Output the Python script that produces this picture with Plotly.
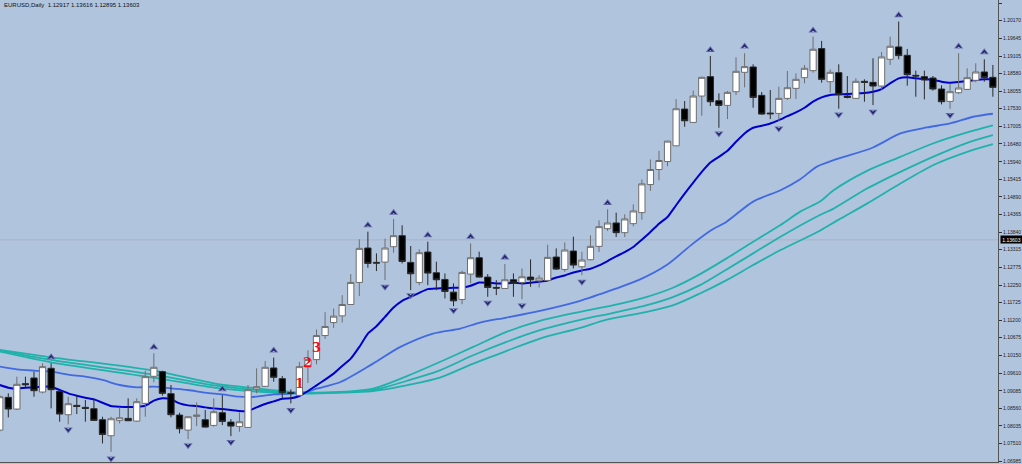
import plotly.graph_objects as go

# Candles (bar index is the x position)
open_ = [1.0791,1.0889,1.0854,1.0930,1.0947,1.0905,1.0976,1.0907,1.0837,1.0865,1.0859,1.0855,1.0822,1.0774,1.0820,1.0826,1.0818,1.0871,1.0952,1.0966,
1.0900,1.0836,1.0791,1.0832,1.0822,1.0805,1.0843,1.0815,1.0802,1.0799,1.0914,1.0922,1.0977,1.0945,1.0903,1.0895,1.0980,1.1002,1.1074,1.1113,
1.1133,1.1167,1.1233,1.1336,1.1293,1.1294,1.1340,1.1373,1.1293,1.1233,1.1324,1.1262,1.1242,1.1204,1.1182,1.1258,1.1307,1.1249,1.1218,1.1215,
1.1241,1.1233,1.1249,1.1238,1.1239,1.1309,1.1272,1.1327,1.1280,1.1301,1.1341,1.1394,1.1411,1.1382,1.1409,1.1442,1.1526,1.1571,1.1595,1.1642,
1.1752,1.1712,1.1791,1.1849,1.1777,1.1763,1.1804,1.1862,1.1878,1.1793,1.1740,1.1739,1.1784,1.1814,1.1846,1.1867,1.1933,1.1834,1.1861,1.1791,
1.1784,1.1835,1.1832,1.1821,1.1901,1.1938,1.1913,1.1853,1.1849,1.1845,1.1812,1.1775,1.1801,1.1811,1.1838,1.1863,1.1847]
high = [1.0896,1.0901,1.0951,1.0951,1.0966,1.0991,1.0991,1.0911,1.0891,1.0896,1.0881,1.0886,1.0831,1.0831,1.0859,1.0886,1.0886,1.0969,1.1021,1.0969,
1.0926,1.0843,1.0833,1.0874,1.0851,1.0886,1.0896,1.0824,1.0844,1.0926,1.0976,1.0998,1.1008,1.0953,1.0913,1.0995,1.1030,1.1092,1.1144,1.1155,
1.1195,1.1258,1.1362,1.1385,1.1320,1.1364,1.1423,1.1404,1.1342,1.1332,1.1355,1.1295,1.1260,1.1230,1.1268,1.1350,1.1325,1.1258,1.1240,1.1288,
1.1260,1.1275,1.1302,1.1255,1.1346,1.1335,1.1353,1.1370,1.1325,1.1374,1.1419,1.1452,1.1442,1.1437,1.1467,1.1541,1.1601,1.1627,1.1657,1.1782,
1.1776,1.1807,1.1849,1.1911,1.1799,1.1806,1.1907,1.1919,1.1886,1.1803,1.1809,1.1819,1.1866,1.1859,1.1884,1.1969,1.1956,1.1871,1.1886,1.1851,
1.1844,1.1841,1.1904,1.1923,1.1969,1.2014,1.1932,1.1867,1.1867,1.1851,1.1823,1.1829,1.1919,1.1874,1.1889,1.1901,1.1884]
low = [1.0786,1.0829,1.0851,1.0919,1.0891,1.0901,1.0856,1.0816,1.0808,1.0839,1.0816,1.0819,1.0751,1.0726,1.0811,1.0819,1.0816,1.0831,1.0934,1.0894,
1.0829,1.0781,1.0764,1.0803,1.0799,1.0801,1.0806,1.0773,1.0786,1.0799,1.0901,1.0921,1.0936,1.0886,1.0871,1.0894,1.0932,1.0988,1.1064,1.1097,
1.1113,1.1167,1.1192,1.1277,1.1267,1.1240,1.1322,1.1290,1.1210,1.1225,1.1225,1.1210,1.1185,1.1162,1.1168,1.1230,1.1248,1.1190,1.1195,1.1215,
1.1190,1.1183,1.1220,1.1218,1.1239,1.1270,1.1265,1.1275,1.1255,1.1299,1.1324,1.1387,1.1369,1.1369,1.1401,1.1421,1.1507,1.1539,1.1581,1.1642,
1.1699,1.1712,1.1732,1.1761,1.1696,1.1722,1.1794,1.1817,1.1756,1.1735,1.1722,1.1717,1.1779,1.1782,1.1829,1.1861,1.1831,1.1801,1.1753,1.1784,
1.1783,1.1774,1.1764,1.1811,1.1884,1.1901,1.1822,1.1789,1.1781,1.1807,1.1766,1.1753,1.1797,1.1809,1.1832,1.1834,1.1789]
close = [1.0891,1.0854,1.0928,1.0927,1.0909,1.0981,1.0912,1.0839,1.0870,1.0862,1.0856,1.0820,1.0778,1.0825,1.0828,1.0819,1.0876,1.0951,1.0979,1.0901,
1.0837,1.0795,1.0831,1.0836,1.0800,1.0846,1.0817,1.0803,1.0816,1.0912,1.0921,1.0979,1.0949,1.0903,1.0901,1.0981,1.1002,1.1074,1.1101,1.1132,
1.1167,1.1233,1.1335,1.1290,1.1291,1.1336,1.1373,1.1296,1.1259,1.1322,1.1261,1.1241,1.1206,1.1178,1.1263,1.1307,1.1249,1.1218,1.1216,1.1241,
1.1232,1.1250,1.1241,1.1246,1.1308,1.1273,1.1330,1.1285,1.1300,1.1341,1.1400,1.1411,1.1382,1.1423,1.1447,1.1528,1.1571,1.1598,1.1656,1.1753,
1.1717,1.1791,1.1847,1.1774,1.1763,1.1802,1.1865,1.1879,1.1787,1.1737,1.1738,1.1784,1.1816,1.1841,1.1874,1.1931,1.1841,1.1862,1.1795,1.1787,
1.1835,1.1832,1.1821,1.1908,1.1940,1.1912,1.1855,1.1851,1.1839,1.1812,1.1774,1.1804,1.1815,1.1846,1.1863,1.1846,1.1817]

# Fast moving average, one value per bar
ma_fast = [1.0926,1.0918,1.0915,1.0918,1.0919,1.0921,1.0921,1.0911,1.0901,1.0894,1.0888,1.0883,1.0873,1.0863,1.0861,1.0860,1.0861,1.0864,1.0879,1.0886,
1.0883,1.0871,1.0865,1.0863,1.0859,1.0856,1.0854,1.0851,1.0848,1.0848,1.0859,1.0869,1.0877,1.0885,1.0886,1.0893,1.0908,1.0925,1.0942,1.0960,
1.0983,1.1005,1.1040,1.1080,1.1102,1.1130,1.1158,1.1178,1.1190,1.1202,1.1213,1.1215,1.1216,1.1217,1.1217,1.1223,1.1233,1.1232,1.1230,1.1230,
1.1232,1.1230,1.1232,1.1235,1.1239,1.1248,1.1254,1.1263,1.1269,1.1274,1.1284,1.1297,1.1311,1.1324,1.1339,1.1361,1.1384,1.1409,1.1429,1.1464,
1.1499,1.1532,1.1564,1.1592,1.1609,1.1627,1.1654,1.1679,1.1696,1.1702,1.1709,1.1719,1.1731,1.1742,1.1756,1.1774,1.1787,1.1794,1.1796,1.1797,
1.1799,1.1800,1.1804,1.1812,1.1829,1.1844,1.1847,1.1844,1.1842,1.1839,1.1834,1.1831,1.1833,1.1836,1.1839,1.1841,1.1841]

# Slower averages, read at selected bar positions
ma_mid_x = [0,2,4,6,8,10,12,14,16,18,20,22,24,26,28,30,32,34,36,37,39.8,43.6,46.8,50.6,53.8,56.1,59.2,63.1,67.8,71.7,74.8,77.9,81,83,84.9,88,91.2,93.5,95.4,97.4,102,105.2,108.3,111,113.7,116]
ma_mid = [1.0981,1.0973,1.0969,1.0966,1.0957,1.0951,1.0941,1.0926,1.0919,1.0921,1.0916,1.0911,1.0903,1.0898,1.0891,1.0891,1.0898,1.0900,1.0906,1.0915,1.0935,1.0990,1.1040,1.1080,1.1095,1.1113,1.1128,1.1148,1.1178,1.1212,1.1242,1.1285,1.1350,1.1388,1.1415,1.1475,1.1509,1.1542,1.1579,1.1599,1.1637,1.1679,1.1697,1.1709,1.1729,1.1738]

ma_a_x = [0,6,18,25,30,35,39.8,43.6,44.8,47.5,51.4,55.3,59.2,63.1,67.8,71.7,75.6,78.7,81.8,84.9,88,91.2,93.5,95.8,97.4,101.3,105.2,109,113,116]
ma_a = [1.1031,1.1009,1.0969,1.0931,1.0916,1.0904,1.0905,1.0915,1.0925,1.0952,1.0995,1.1040,1.1085,1.1118,1.1145,1.1165,1.1190,1.1218,1.1258,1.1305,1.1355,1.1405,1.1445,1.1475,1.1509,1.1567,1.1609,1.1649,1.1682,1.1703]
ma_b_x = [0,6,18,25,30,35,39.8,43.6,44.8,47.5,51.4,55.3,59.2,63.1,67.8,71.7,75.6,78.7,81.8,84.9,88,91.2,95.8,97.4,101.3,105.2,109,113,116]
ma_b = [1.1029,1.1001,1.0957,1.0925,1.0911,1.0902,1.0904,1.0911,1.0918,1.0938,1.0970,1.1015,1.1055,1.1090,1.1121,1.1142,1.1165,1.1190,1.1225,1.1272,1.1320,1.1370,1.1435,1.1454,1.1514,1.1564,1.1609,1.1651,1.1674]
ma_c_x = [0,6,18,25,30,35,39.8,43.6,44.8,47.5,51.4,55.3,59.2,63.1,67.8,70.9,75.6,78.7,81.8,84.9,88,91.2,95.8,98,101.3,105.2,109,113,116]
ma_c = [1.1026,1.0994,1.0948,1.0918,1.0906,1.0900,1.0903,1.0908,1.0912,1.0925,1.0948,1.0990,1.1028,1.1065,1.1097,1.1122,1.1145,1.1165,1.1200,1.1240,1.1285,1.1330,1.1388,1.1421,1.1469,1.1529,1.1584,1.1624,1.1647]

# Fractal arrows
up_x = [6,18,26,32,43,46,50,55,59,71,83,87,95,105,112,115]
up_y = [1.1009,1.1039,1.0913,1.1029,1.1404,1.1442,1.1374,1.1370,1.1308,1.1471,1.1929,1.1939,1.1987,1.2033,1.1939,1.1922]
down_x = [8,13,22,27,34,45,48,53,57,61,68,84,91,98,102,111]
down_y = [1.0793,1.0706,1.0746,1.0755,1.0851,1.1220,1.1195,1.1150,1.1172,1.1164,1.1235,1.1679,1.1694,1.1736,1.1744,1.1734]

# Numbered labels
label_x = [35,36,37]
label_y = [1.0931,1.0992,1.1037]
label_text = ["1","2","3"]

tick_labels = ["1.20695","1.20170","1.19645","1.19105","1.18580","1.18055","1.17530","1.17005","1.16480","1.15940","1.15415","1.14890","1.14365","1.13840","1.13315","1.12775","1.12250","1.11725","1.11200","1.10675","1.10150","1.09610","1.09085","1.08560","1.08035","1.07510","1.06985"]
tick_vals = [float(t) for t in tick_labels]
last_price = 1.13603
title_text = "EURUSD,Daily  1.12917 1.13616 1.12895 1.13603"

BG = "#B0C4DE"
W, H = 1022, 464
PLOT_W, PLOT_H = 998, 462
yr = [1.06955, 1.20785]
bars = list(range(len(close)))

fig = go.Figure()
for xs, ys in ((ma_a_x, ma_a), (ma_b_x, ma_b), (ma_c_x, ma_c)):
    fig.add_trace(go.Scatter(x=xs, y=ys, mode="lines", yaxis="y",
                             line=dict(color="#20B2AA", width=1.8, shape="spline", smoothing=0.8)))
fig.add_trace(go.Scatter(x=ma_mid_x, y=ma_mid, mode="lines", yaxis="y",
                         line=dict(color="#4169E1", width=1.8, shape="spline", smoothing=0.8)))
fig.add_trace(go.Scatter(x=bars, y=ma_fast, mode="lines", yaxis="y",
                         line=dict(color="#0000CD", width=2, shape="spline", smoothing=0.5)))

fig.add_trace(go.Candlestick(x=bars, open=open_, high=high, low=low, close=close, yaxis="y2",
                             whiskerwidth=0,
                             increasing=dict(fillcolor="#FFFFFF", line=dict(color="#6E6E6E", width=1)),
                             decreasing=dict(fillcolor="#000000", line=dict(color="#2A2A2A", width=1))))

# Arrow heads: lighter triangle, dark core, notch in the background colour at the base
for xs, ys, tri, ang in ((up_x, up_y, "triangle-up", 0), (down_x, down_y, "triangle-down", 180)):
    fig.add_trace(go.Scatter(x=xs, y=ys, mode="markers", yaxis="y2",
                             marker=dict(symbol=tri, size=8, color="#6A6FA8")))
    fig.add_trace(go.Scatter(x=xs, y=ys, mode="markers", yaxis="y2",
                             marker=dict(symbol=tri, size=5, color="#1E1F6E")))
    fig.add_trace(go.Scatter(x=xs, y=ys, mode="markers", yaxis="y2",
                             marker=dict(symbol="arrow-wide", size=3.2, color=BG, angle=ang)))

annotations = [
    dict(x=2 / W, y=1 - 5 / H, xref="paper", yref="paper", xanchor="left", yanchor="middle", showarrow=False,
         text=title_text, font=dict(family="Liberation Sans", size=6, color="#111111")),
    dict(x=1000 / W, y=last_price, xref="paper", yref="y", xanchor="left", yanchor="middle", showarrow=False,
         text=str(last_price), bgcolor="#000000", borderpad=0, width=21, height=7, align="center",
         font=dict(family="Liberation Sans", size=5, color="#FFFFFF")),
]
for lx, ly, lt in zip(label_x, label_y, label_text):
    annotations.append(dict(x=lx, y=ly, xref="x", yref="y2", showarrow=False, text=lt,
                            font=dict(family="DejaVu Serif", size=13, color="#F01010", weight="bold")))

shapes = [dict(type="line", xref="paper", yref="y", x0=0, x1=PLOT_W / W, y0=last_price, y1=last_price,
               layer="below", line=dict(color="#A6B2C6", width=1))]

fig.update_layout(
    width=W, height=H, autosize=False, showlegend=False,
    margin=dict(l=0, r=0, t=0, b=0, pad=0),
    paper_bgcolor=BG, plot_bgcolor=BG, boxgap=0.27, boxgroupgap=0,
    xaxis=dict(domain=[0, PLOT_W / W], range=[0.03, 116.6], rangeslider=dict(visible=False),
               showticklabels=False, ticks="", showgrid=False, zeroline=False,
               showline=True, linecolor="#555555", linewidth=1),
    yaxis=dict(domain=[1 - PLOT_H / H, 1], range=yr, side="right", tickmode="array",
               tickvals=tick_vals, ticktext=tick_labels, ticks="outside", ticklen=3, tickwidth=1,
               tickcolor="#333333", tickfont=dict(family="Liberation Sans", size=5, color="#222222"),
               showgrid=False, zeroline=False, showline=True, linecolor="#555555", linewidth=1,
               automargin=False),
    yaxis2=dict(domain=[1 - PLOT_H / H, 1], range=yr, overlaying="y", visible=False, side="right"),
    annotations=annotations, shapes=shapes,
)
fig.write_html("out.html", config={"displayModeBar": False},
               post_script="document.body.style.margin='0';document.body.style.overflow='hidden';")
